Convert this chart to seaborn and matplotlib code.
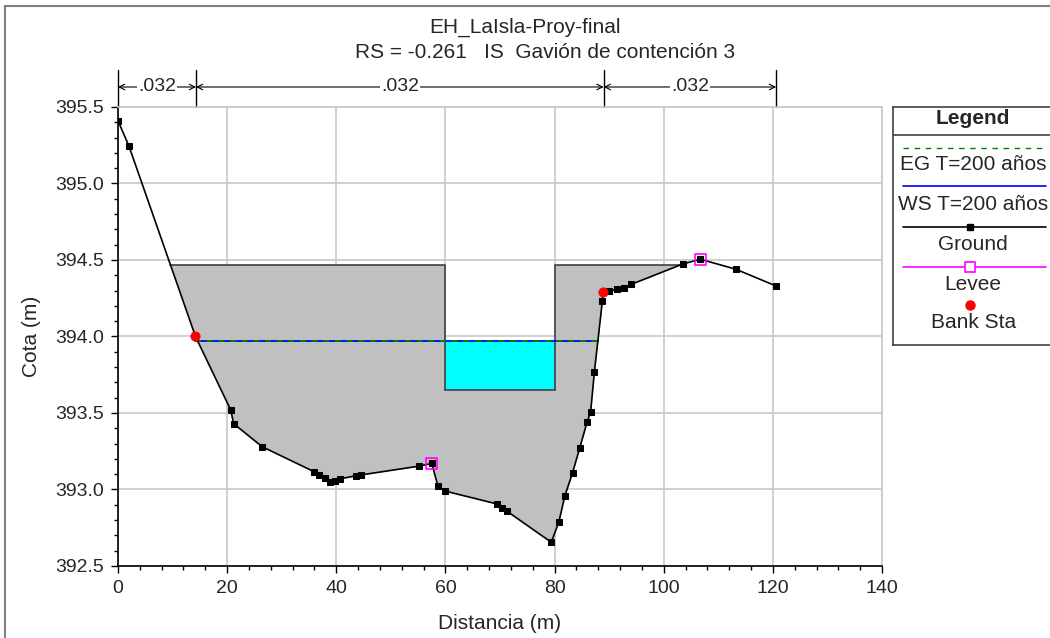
import numpy as np
import matplotlib
matplotlib.use("Agg")
import matplotlib.pyplot as plt
import matplotlib.transforms as mtransforms
from matplotlib.patches import Rectangle
from matplotlib.ticker import MultipleLocator, FormatStrFormatter
import seaborn as sns

# -----------------------------------------------------------------------------
# Cross section data

ground_x = [0.0, 2.0, 14.2, 20.65, 21.2, 26.4, 36.0, 36.9, 38.0, 38.8, 39.8,
            40.7, 43.7, 44.5, 55.2, 57.5, 58.6, 59.9, 69.5, 70.3, 71.2, 79.4,
            80.8, 81.9, 83.3, 84.6, 85.95, 86.6, 87.3, 88.75, 88.85, 90.0,
            91.5, 92.8, 94.0, 103.5, 106.7, 113.2, 120.6]
ground_y = [395.41, 395.245, 394.0, 393.52, 393.43, 393.28, 393.115, 393.095,
            393.075, 393.05, 393.055, 393.07, 393.09, 393.095, 393.153, 393.17,
            393.025, 392.99, 392.905, 392.88, 392.86, 392.655, 392.79, 392.96,
            393.11, 393.27, 393.44, 393.505, 393.77, 394.23, 394.29, 394.295,
            394.31, 394.32, 394.34, 394.474, 394.505, 394.44, 394.33]

levee_x = [57.5, 106.7]
levee_y = [393.17, 394.505]

bank_x = [14.2, 88.85]
bank_y = [394.0, 394.29]

ws_x = [14.2, 88.0]          # water surface T=200 años
ws_elev = 393.97
eg_elev = 393.97             # energy grade T=200 años

deck_elev = 394.47           # gavion crest
gate_x = [60.0, 80.0]        # opening
gate_invert = 393.65

n_breaks = [0.0, 14.3, 89.0, 120.6]
n_values = [".032", ".032", ".032"]

# -----------------------------------------------------------------------------
sns.set_style("white")
plt.rcParams["font.family"] = ["Liberation Sans", "DejaVu Sans"]

fig = plt.figure(figsize=(10.5, 6.38), dpi=100)
ax = fig.add_axes([118 / 1050, 1 - 566 / 638, 764 / 1050, 459 / 638])

gx = np.array(ground_x)
gy = np.array(ground_y)


def crossing(x0, y0, x1, y1, level):
    return x0 + (level - y0) * (x1 - x0) / (y1 - y0)


# where the ground meets the crest on each side
i = np.where(gy < deck_elev)[0][0]
x_left = crossing(gx[i - 1], gy[i - 1], gx[i], gy[i], deck_elev)
k = np.where((gx > gate_x[1]) & (gy >= deck_elev))[0][0]
x_right = crossing(gx[k - 1], gy[k - 1], gx[k], gy[k], deck_elev)

# gray structure between ground and crest, with the opening cut out
xs = np.union1d(gx, gate_x + [x_left, x_right])
ys = np.interp(xs, gx, gy)
parts = [(x_left, gate_x[0], deck_elev),
         (gate_x[0], gate_x[1], gate_invert),
         (gate_x[1], x_right, deck_elev)]
for lo, hi, top in parts:
    m = (xs >= lo - 1e-9) & (xs <= hi + 1e-9)
    ax.fill_between(xs[m], ys[m], top, interpolate=True,
                    color="#c0c0c0", lw=0, zorder=1)

edge = "#404040"
ax.plot([x_left, gate_x[0], gate_x[0]], [deck_elev, deck_elev, gate_invert],
        color=edge, lw=1.2, zorder=3)
ax.plot([gate_x[1], gate_x[1], x_right], [gate_invert, deck_elev, deck_elev],
        color=edge, lw=1.2, zorder=3)

# water in the opening
ax.fill_between(gate_x, gate_invert, ws_elev, color="#00ffff", lw=0, zorder=2)
ax.plot(gate_x, [gate_invert, gate_invert], color=edge, lw=1.2, zorder=3)

# water surface and energy grade
sns.lineplot(x=ws_x, y=[ws_elev, ws_elev], ax=ax, color="#0000ff", lw=1.3,
             zorder=4)
eg_line = ax.plot(ws_x, [eg_elev, eg_elev], color="#008000", lw=1.4,
                  zorder=5)[0]
eg_line.set_dashes((3, 3))

# ground
sns.lineplot(x=ground_x, y=ground_y, ax=ax, color="black", lw=1.2,
             marker="s", markersize=5, markeredgecolor="black", sort=False,
             estimator=None, zorder=6)

# levees and bank stations
sns.scatterplot(x=levee_x, y=levee_y, ax=ax, marker="s", s=60,
                facecolor="none", edgecolor="#ff00ff", linewidth=1.2, zorder=7)
sns.scatterplot(x=bank_x, y=bank_y, ax=ax, marker="o", s=45, color="red",
                edgecolor="red", zorder=8)

# axes styling
ax.set_xlim(0, 140)
ax.set_ylim(392.5, 395.5)
ax.xaxis.set_major_locator(MultipleLocator(20))
ax.xaxis.set_minor_locator(MultipleLocator(4))
ax.yaxis.set_major_locator(MultipleLocator(0.5))
ax.yaxis.set_minor_locator(MultipleLocator(0.1))
ax.yaxis.set_major_formatter(FormatStrFormatter("%.1f"))
ax.grid(True, which="major", color="#c8c8c8", lw=1.2, zorder=0)
ax.set_axisbelow(True)
ax.tick_params(which="major", direction="out", length=5, width=1, pad=5,
               labelsize=14, color="black", bottom=True, left=True)
ax.tick_params(which="minor", direction="out", length=3, width=1,
               bottom=True, left=True, color="black")
for s in ["left", "bottom"]:
    ax.spines[s].set_color("black")
    ax.spines[s].set_linewidth(1.2)
for s in ["top", "right"]:
    ax.spines[s].set_color("#c8c8c8")
    ax.spines[s].set_linewidth(1.2)
ax.set_xlabel("Distancia (m)", fontsize=15, labelpad=12)
ax.set_ylabel("Cota (m)", fontsize=15, labelpad=10)

# Manning's n bar above the plot
trans = mtransforms.blended_transform_factory(ax.transData, ax.transAxes)
for b in n_breaks:
    ax.plot([b, b], [1.0, 1.08], transform=trans, color="black", lw=1,
            clip_on=False)
y_arrow = 1.0436
for k, n in enumerate(n_values):
    b0, b1 = n_breaks[k], n_breaks[k + 1]
    ax.annotate("", xy=(b1, y_arrow), xytext=(b0, y_arrow), xycoords=trans,
                textcoords=trans,
                arrowprops=dict(arrowstyle="<->", lw=0.8, color="black",
                                shrinkA=0, shrinkB=0))
    ax.text((b0 + b1) / 2, y_arrow, n, transform=trans, ha="center",
            va="center", fontsize=14,
            bbox=dict(fc="white", ec="none", pad=1.0))

# titles
fig.text(525 / 1050, 1 - 27 / 638, "EH_LaIsla-Proy-final", ha="center",
         va="center", fontsize=15)
fig.text(545 / 1050, 1 - 52 / 638, "RS = -0.261   IS  Gavión de contención 3",
         ha="center", va="center", fontsize=15)

# hand-drawn legend panel
lax = fig.add_axes([893 / 1050, 1 - 345 / 638, 1 - 893 / 1050 + 0.01,
                    238 / 638])
lax.set_xlim(893, 1060)
lax.set_ylim(345, 107)
lax.set_xticks([])
lax.set_yticks([])
for s in lax.spines.values():
    s.set_color("#404040")
    s.set_linewidth(1.2)
xl = [903, 1046]
xc = 973
fs = 15
lax.text(xc, 118, "Legend", ha="center", va="center", fontsize=fs,
         fontweight="bold")
lax.plot([893, 1060], [135, 135], color="#404040", lw=1.2)
lax.plot(xl, [147.5, 147.5], color="#008000", lw=1, dashes=(4, 4))
lax.text(xc, 164, "EG T=200 años", ha="center", va="center", fontsize=fs)
lax.plot(xl, [186, 186], color="#0000ff", lw=1.2)
lax.text(xc, 204, "WS T=200 años", ha="center", va="center", fontsize=fs)
lax.plot(xl, [226.5, 226.5], color="black", lw=1.2)
lax.plot([xc - 3], [226.5], marker="s", ms=5, color="black")
lax.text(xc, 244, "Ground", ha="center", va="center", fontsize=fs)
lax.plot(xl, [266.5, 266.5], color="#ff00ff", lw=1.2)
lax.plot([xc - 3], [266.5], marker="s", ms=7, mfc="white", mec="#ff00ff",
         mew=1.2)
lax.text(xc, 284, "Levee", ha="center", va="center", fontsize=fs)
lax.plot([xc - 3], [305], marker="o", ms=6.5, color="red")
lax.text(xc, 322, "Bank Sta", ha="center", va="center", fontsize=fs)

# outer frame
fig.add_artist(Rectangle((5 / 1050, -0.05), 1.1, 1 - 6 / 638 + 0.05,
                         transform=fig.transFigure, fill=False,
                         ec="#808080", lw=1.5))

fig.savefig("out.png", dpi=100)
